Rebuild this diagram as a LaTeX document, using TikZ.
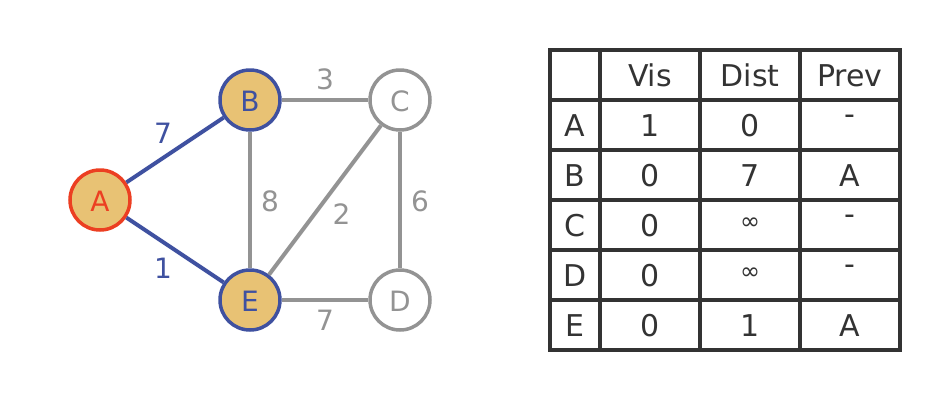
\documentclass[tikz,border=0pt]{standalone}
\usepackage{fontspec}
\setmainfont{DejaVu Sans}
\definecolor{eblue}{HTML}{3F51A0}
\definecolor{ered}{HTML}{EC3F22}
\definecolor{efill}{HTML}{E8C274}
\definecolor{egray}{HTML}{939393}
\definecolor{edark}{HTML}{333333}
\begin{document}
\begin{tikzpicture}[x=1pt,y=-1pt,
  font=\fontsize{28}{30}\selectfont,
  vtx/.style={circle,minimum size=60pt,inner sep=0pt,line width=3.5pt,draw=egray,fill=white,text=egray},
  vis/.style={vtx,draw=eblue,fill=efill,text=eblue},
  src/.style={vtx,draw=ered,fill=efill,text=ered},
  bedge/.style={line width=4pt,draw=eblue},
  gedge/.style={line width=4pt,draw=egray},
  blab/.style={anchor=base,text=eblue,inner sep=0pt},
  glab/.style={anchor=base,text=egray,inner sep=0pt},
  cell/.style={anchor=base,text=edark,inner sep=0pt,font=\fontsize{30}{32}\selectfont},
  dashcell/.style={anchor=center,text=edark,inner sep=0pt,font=\fontsize{30}{32}\selectfont},
  infcell/.style={anchor=center,text=edark,inner sep=0pt,font=\fontsize{24}{26}\selectfont},
  grid/.style={line width=4pt,draw=edark}
]
\useasboundingbox (0,0) rectangle (950,400);
% graph nodes
\node[src] (A) at (100,200) {};
\node[vis] (B) at (250,100) {};
\node[vtx] (C) at (400,100) {};
\node[vtx] (D) at (400,300) {};
\node[vis] (E) at (250,300) {};
% edges
\draw[bedge] (A) -- (B);
\draw[bedge] (A) -- (E);
\draw[gedge] (B) -- (C);
\draw[gedge] (B) -- (E);
\draw[gedge] (E) -- (C);
\draw[gedge] (C) -- (D);
\draw[gedge] (E) -- (D);
% node labels
\node[anchor=base,text=ered,inner sep=0pt] (tA) at (100,211) {A};
\node[anchor=base,text=eblue,inner sep=0pt] (tB) at (250,111) {B};
\node[anchor=base,text=egray,inner sep=0pt] (tC) at (400,111) {C};
\node[anchor=base,text=egray,inner sep=0pt] (tD) at (400,311) {D};
\node[anchor=base,text=eblue,inner sep=0pt] (tE) at (250,311) {E};
% edge labels
\node[blab] (wAB) at (163,143) {7};
\node[blab] (wAE) at (163,278) {1};
\node[glab] (wBC) at (325,89) {3};
\node[glab] (wBE) at (270,211) {8};
\node[glab] (wCE) at (341.5,224) {2};
\node[glab] (wCD) at (420,211) {6};
\node[glab] (wED) at (325,330) {7};
% table
\foreach \y in {50,100,150,200,250,300,350} \draw[grid] (548,\y) -- (902,\y);
\foreach \x in {550,600,700,800,900} \draw[grid] (\x,48) -- (\x,352);
% header
\node[cell] (hV) at (650,86) {Vis};
\node[cell] (hD) at (750,86) {Dist};
\node[cell] (hP) at (850,86) {Prev};
% rows
\node[cell] (rA) at (575,136.5) {A};
\node[cell] (rAv) at (650,136.5) {1};
\node[cell] (rAd) at (750,136.5) {0};
\node[dashcell] (rAp) at (850,120) {-};
\node[cell] (rB) at (575,186.5) {B};
\node[cell] (rBv) at (650,186.5) {0};
\node[cell] (rBd) at (750,186.5) {7};
\node[cell] (rBp) at (850,186.5) {A};
\node[cell] (rC) at (575,236.5) {C};
\node[cell] (rCv) at (650,236.5) {0};
\node[infcell] (rCd) at (750,223.5) {∞};
\node[dashcell] (rCp) at (850,220) {-};
\node[cell] (rD) at (575,286.5) {D};
\node[cell] (rDv) at (650,286.5) {0};
\node[infcell] (rDd) at (750,273.5) {∞};
\node[dashcell] (rDp) at (850,270) {-};
\node[cell] (rE) at (575,336.5) {E};
\node[cell] (rEv) at (650,336.5) {0};
\node[cell] (rEd) at (750,336.5) {1};
\node[cell] (rEp) at (850,336.5) {A};
\end{tikzpicture}
\end{document}
